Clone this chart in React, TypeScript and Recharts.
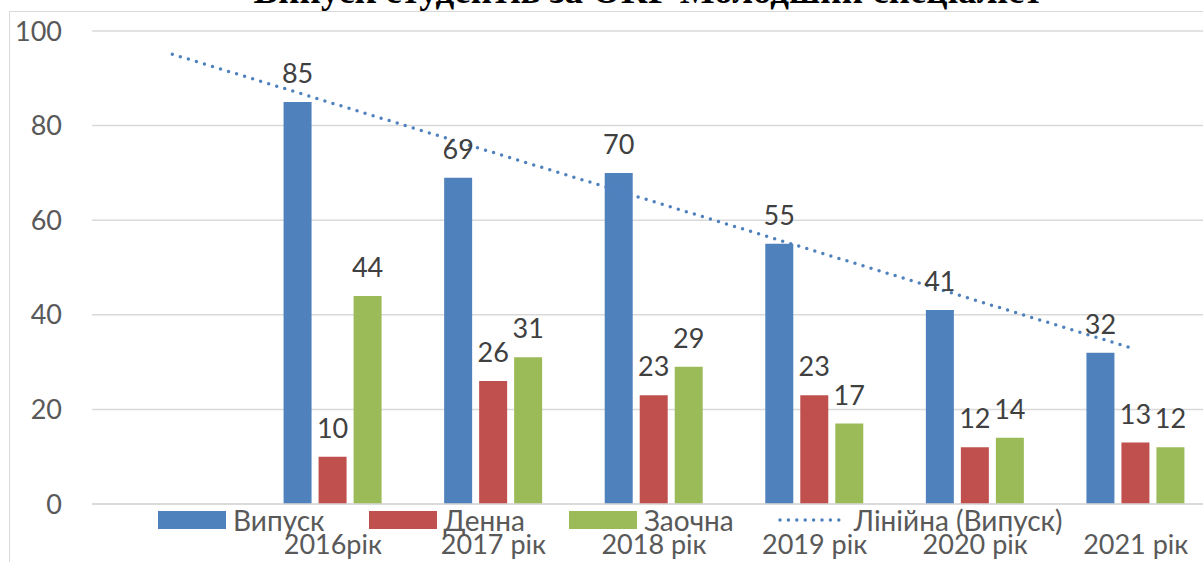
import {
  Bar,
  CartesianGrid,
  ComposedChart,
  LabelList,
  Legend,
  Line,
  XAxis,
  YAxis
} from 'recharts';

const years = ['', '2016рік', '2017 рік', '2018 рік', '2019 рік', '2020 рік', '2021 рік'];
const vypusk = [null, 85, 69, 70, 55, 41, 32];
const denna = [null, 10, 26, 23, 23, 12, 13];
const zaochna = [null, 44, 31, 29, 17, 14, 12];
// trendline ends
const trend = [95.1, null, null, null, null, null, 32.7];
const yTicks = [0, 20, 40, 60, 80, 100];

const data = years.map((name, i) => ({
  name,
  vypusk: vypusk[i],
  denna: denna[i],
  zaochna: zaochna[i],
  trend: trend[i]
}));

const FONT = 'Lato, "Noto Sans", sans-serif';
const BLUE = '#4F81BD';
const RED = '#C0504D';
const GREEN = '#9BBB59';

const legendItems = [
  { label: 'Випуск', color: BLUE, kind: 'box' },
  { label: 'Денна', color: RED, kind: 'box' },
  { label: 'Заочна', color: GREEN, kind: 'box' },
  { label: 'Лінійна (Випуск)', color: BLUE, kind: 'dots' }
];

const renderLegend = () => (
  <div style={{ display: 'flex', alignItems: 'center', fontFamily: FONT, fontSize: 28, color: '#595959', whiteSpace: 'nowrap' }}>
    {legendItems.map((it) => (
      <div key={it.label} style={{ display: 'flex', alignItems: 'center', marginRight: 44 }}>
        {it.kind === 'box' ? (
          <div style={{ width: 68, height: 18, background: it.color, marginRight: 7 }} />
        ) : (
          <svg width={66} height={18} style={{ marginRight: 10 }}>
            <line x1={2} y1={9} x2={64} y2={9} stroke={it.color} strokeWidth={3.5}
              strokeDasharray="0 8.4" strokeLinecap="round" />
          </svg>
        )}
        <span style={{ lineHeight: '18px' }}>{it.label}</span>
      </div>
    ))}
  </div>
);

const labelProps = { position: 'top' as const, offset: 19, fill: '#404040', fontSize: 27, fontFamily: FONT };

const App = () => {
  return (
    <div style={{ position: 'relative', width: 1203, height: 562, overflow: 'hidden', background: '#fff' }}>
      <style>{'body{margin:0}'}</style>
      <div style={{
        position: 'absolute', left: 9, top: 11, width: 1400, height: 800,
        borderLeft: '1px solid #d9d9d9', borderTop: '1px solid #d9d9d9'
      }} />
      <div style={{
        position: 'absolute', left: 0, width: 1296, top: -31, textAlign: 'center',
        fontFamily: '"Liberation Serif", "Times New Roman", serif', fontWeight: 'bold',
        fontSize: 37, lineHeight: '44px', color: '#000', whiteSpace: 'nowrap'
      }}>
        Випуск студентів за ОКР Молодший спеціаліст
      </div>
      <div style={{ position: 'absolute', left: 0, top: 0 }}>
        <ComposedChart width={1230} height={562} data={data}
          margin={{ top: 31, right: 14, left: 0, bottom: 0 }} barSize={28} barGap={7}>
          <CartesianGrid vertical={false} stroke="#d9d9d9" strokeWidth={1.5} />
          <XAxis dataKey="name" height={58} tickLine={false} axisLine={{ stroke: '#d9d9d9', strokeWidth: 1.5 }}
            tickSize={0} tickMargin={31} interval={0}
            tick={{ fill: '#595959', fontSize: 27, fontFamily: FONT }} />
          <YAxis width={92} domain={[0, 100]} ticks={yTicks} axisLine={false} tickLine={false}
            tickSize={0} tickMargin={30}
            tick={{ fill: '#595959', fontSize: 27, fontFamily: FONT }} />
          <Legend layout="horizontal" verticalAlign="middle" align="center" content={renderLegend}
            wrapperStyle={{ top: 511, left: 158, width: 1100 }} />
          <Bar dataKey="vypusk" fill={BLUE} isAnimationActive={false}>
            <LabelList dataKey="vypusk" {...labelProps} />
          </Bar>
          <Bar dataKey="denna" fill={RED} isAnimationActive={false}>
            <LabelList dataKey="denna" {...labelProps} />
          </Bar>
          <Bar dataKey="zaochna" fill={GREEN} isAnimationActive={false}>
            <LabelList dataKey="zaochna" {...labelProps} />
          </Bar>
          <Line dataKey="trend" stroke={BLUE} strokeWidth={3.5} strokeDasharray="0 8.4"
            strokeLinecap="round" dot={false} connectNulls legendType="none" isAnimationActive={false} />
        </ComposedChart>
      </div>
    </div>
  );
};

export default App;
